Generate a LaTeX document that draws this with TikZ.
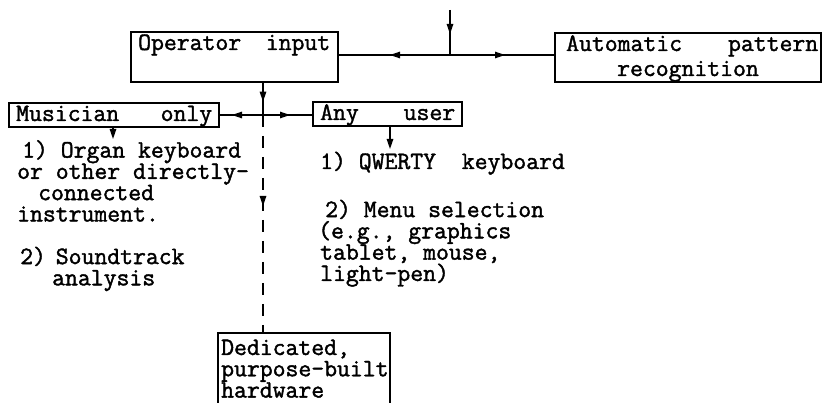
\documentclass[tikz,border=0pt]{standalone}
\usepackage{fontspec}
\usetikzlibrary{arrows.meta,decorations.markings}
% typewriter face, slightly emboldened
\newfontfamily\typewriter{Latin Modern Mono}[FakeBold=1.6]
\begin{document}
\begin{tikzpicture}[x=1pt,y=-1pt,
  link/.style={line width=1.3pt, black},
  box/.style={draw, line width=1.3pt, rectangle, inner sep=0pt},
  txt/.style={inner sep=0pt, anchor=base west, align=left,
    font=\typewriter\fontsize{25}{21.3}\selectfont},
  tip/.style={-{Triangle[length=10pt,width=6.5pt]}},
  midtip/.style={postaction={decorate, solid},
    decoration={markings, mark=at position #1 with {\arrow{Triangle[length=10pt,width=6.5pt]}}}},
]
\useasboundingbox (0,0) rectangle (822,403);
\clip (0,0) rectangle (822,403);

% boxes
\node[box, minimum width=207pt, minimum height=50pt] (op) at (234.5,57) {};
\node[box, minimum width=266pt, minimum height=49pt] (auto) at (688,57.5) {};
\node[box, minimum width=210pt, minimum height=24pt] (mus) at (114,115) {};
\node[box, minimum width=149pt, minimum height=24pt] (any) at (387.5,114) {};
\node[box, minimum width=172pt, minimum height=90pt] (ded) at (304,378) {};

% box labels
\node[txt] (opt) at (138,50) {\makebox[192pt][s]{Operator\hfill input}};
\node[txt] (autot1) at (566,51) {\makebox[252pt][s]{Automatic\hfill pattern}};
\node[txt, anchor=base] (autot2) at (688,76) {recognition};
\node[txt] (must) at (16,121) {\makebox[196pt][s]{Musician\hfill only}};
\node[txt] (anyt) at (320,120) {\makebox[135pt][s]{Any\hfill user}};
\node[txt, anchor=north west] (dedt) at (221,339.5) {Dedicated,\\purpose-built\\hardware};

% musician inputs
\node[txt, anchor=north west] (mlist) at (17,140) {%
  \hspace*{5pt}1) Organ keyboard\\
  or other directly-\\
  \hspace*{21pt}connected\\
  instrument.\\[21.3pt]
  \hspace*{3pt}2)\kern-3pt\ Soundtrack\\
  \hspace*{35pt}analysis};

% general user inputs
\node[txt] (u1) at (320,169) {1) QWERTY\ \ keyboard};
\node[txt, anchor=north west] (ulist) at (318,199.5) {%
  \hspace*{7pt}2) Menu selection\\
  (e.g., graphics\\
  \hspace*{2pt}tablet, mouse,\\
  \hspace*{2pt}light-pen)};

% junctions
\coordinate (topin) at (450,10);
\coordinate (j1) at (450,55);
\coordinate (j2) at (263,115);
\coordinate (musarr) at (113,139);
\coordinate (anyarr) at (390,149);

% connectors
\draw[link, midtip=24pt] (topin) -- (j1);
\draw[link, midtip=60pt] (j1) -- (op.east |- j1);
\draw[link, midtip=55pt] (j1) -- (auto.west |- j1);
\draw[link, midtip=19pt] (j2 |- op.south) -- (j2);
\draw[link, midtip=31pt] (j2) -- (mus.east |- j2);
\draw[link, midtip=27pt] (j2) -- (any.west |- j2);
\draw[link, dash pattern=on 12pt off 9pt, midtip=91pt] (j2) -- (j2 |- ded.north);
\draw[link, tip] (mus.south -| musarr) -- (musarr);
\draw[link, tip] (any.south -| anyarr) -- (anyarr);
\end{tikzpicture}
\end{document}
